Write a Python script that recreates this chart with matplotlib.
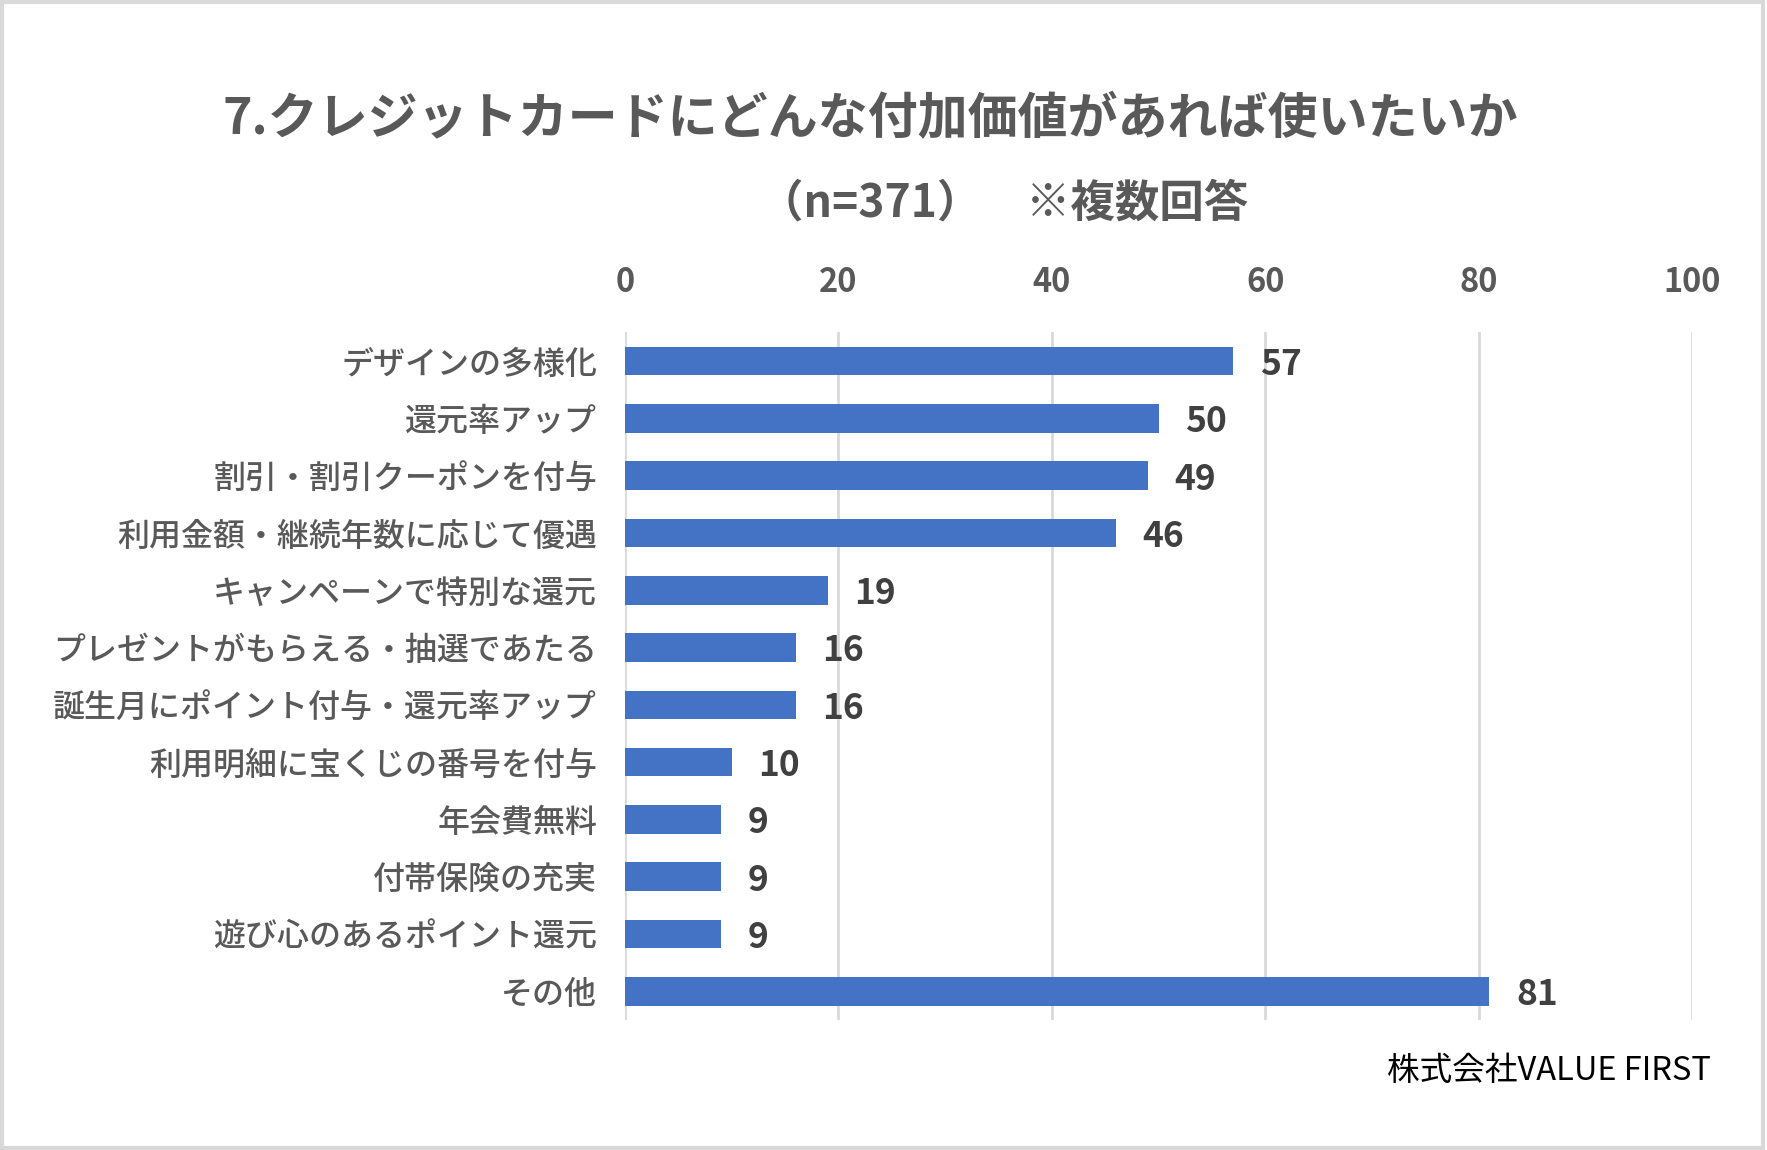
import matplotlib
matplotlib.use("Agg")
import matplotlib.pyplot as plt
from matplotlib.patches import Rectangle

plt.rcParams['font.family'] = ['Noto Sans CJK JP', 'DejaVu Sans']

# data, top to bottom as in the chart
categories = [
    "デザインの多様化",
    "還元率アップ",
    "割引・割引クーポンを付与",
    "利用金額・継続年数に応じて優遇",
    "キャンペーンで特別な還元",
    "プレゼントがもらえる・抽選であたる",
    "誕生月にポイント付与・還元率アップ",
    "利用明細に宝くじの番号を付与",
    "年会費無料",
    "付帯保険の充実",
    "遊び心のあるポイント還元",
    "その他",
]
counts = [57, 50, 49, 46, 19, 16, 16, 10, 9, 9, 9, 81]
x_ticks = [0, 20, 40, 60, 80, 100]

title_line1 = "7.クレジットカードにどんな付加価値があれば使いたいか"
title_line2 = "（n=371）　※複数回答"
credit = "株式会社VALUE FIRST"

bar_color = "#4472C4"
text_gray = "#595959"
grid_gray = "#d9d9d9"

fig = plt.figure(figsize=(17.67, 11.5), dpi=100)
ax = fig.add_axes([0.3537, 0.113, 0.604, 0.598])

ypos = list(range(len(categories)))
ax.barh(ypos, counts, height=0.5, color=bar_color, zorder=3)

ax.set_ylim(len(categories) - 0.5, -0.5)
ax.set_xlim(0, 100)
ax.set_xticks(x_ticks)
ax.xaxis.tick_top()
ax.tick_params(axis='x', length=0, pad=24, labelsize=23.5, labelcolor=text_gray)
for lbl in ax.get_xticklabels():
    lbl.set_fontweight('bold')
ax.set_yticks(ypos)
ax.set_yticklabels(categories, fontsize=23, color=text_gray, fontweight='medium')
ax.tick_params(axis='y', length=0, pad=20)

ax.grid(axis='x', color=grid_gray, linewidth=2, zorder=0)
for s in ax.spines.values():
    s.set_visible(False)

# value labels
for y, v in zip(ypos, counts):
    ax.text(v + 2.5, y + 0.06, str(v), va='center', ha='left',
            fontsize=25.5, fontweight='bold', color="#404040")

fig.text(0.4925, 0.896, title_line1, ha='center', va='center',
         fontsize=36, fontweight='bold', color=text_gray)
fig.text(0.568, 0.823, title_line2, ha='center', va='center',
         fontsize=32, fontweight='bold', color=text_gray)
fig.text(0.968, 0.069, credit, ha='right', va='center',
         fontsize=23.5, color='black')

# light frame around the whole chart
fig.patches.append(Rectangle((0.001, 0.002), 0.997, 0.996, transform=fig.transFigure,
                             fill=False, edgecolor=grid_gray, linewidth=3))

fig.savefig("out.png", dpi=100)
